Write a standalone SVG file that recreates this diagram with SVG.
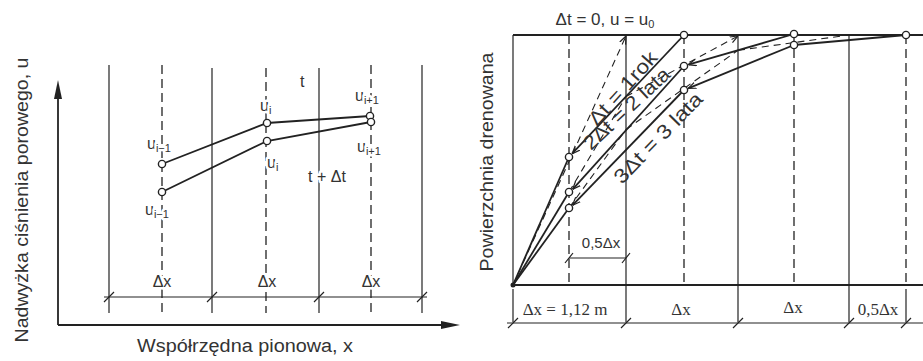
<svg xmlns="http://www.w3.org/2000/svg" width="923" height="361" viewBox="0 0 923 361">
<style>
.ln{stroke:#222;stroke-width:1.2;fill:none}
.th{stroke:#222;stroke-width:1.8;fill:none}
.ds{stroke:#222;stroke-width:1.3;fill:none;stroke-dasharray:9 5}
.dd{stroke:#222;stroke-width:1.1;fill:none;stroke-dasharray:7 5}
.pt{fill:#fff;stroke:#222;stroke-width:1.4}
.sans{font-family:"Liberation Sans",Arial,sans-serif;fill:#333}
.serif{font-family:"Liberation Serif","Times New Roman",serif;fill:#333}
.halo{stroke:#fff;stroke-width:5;paint-order:stroke;stroke-linejoin:round}
</style>
<defs>
<marker id="av" viewBox="0 0 10 10" refX="10" refY="5" markerWidth="8" markerHeight="8" markerUnits="userSpaceOnUse" orient="auto">
<path d="M0,1 L10,5 L0,9" fill="none" stroke="#222" stroke-width="1.5"/>
</marker>
</defs>
<rect width="923" height="361" fill="#fff"/>

<!-- LEFT DIAGRAM -->
<g id="left-axes">
<line class="th" x1="58" y1="325" x2="58" y2="95"/>
<polygon points="58,80 54,99 62,99" fill="#222"/>
<line class="th" x1="58" y1="325" x2="445" y2="325"/>
<polygon points="460,325 441,321 441,329" fill="#222"/>
</g>
<g id="left-grid">
<line class="ln" x1="109" y1="65" x2="109" y2="313"/>
<line class="ln" x1="212" y1="68" x2="212" y2="313"/>
<line class="ln" x1="319" y1="68" x2="319" y2="313"/>
<line class="ln" x1="422" y1="65" x2="422" y2="313"/>
<line class="ds" x1="162" y1="65" x2="162" y2="313"/>
<line class="ds" x1="266" y1="68" x2="266" y2="313"/>
<line class="ds" x1="371" y1="65" x2="371" y2="313"/>
<line class="ln" x1="104" y1="297" x2="427" y2="297"/>
<path class="ln" d="M104,302 L114,292 M207,302 L217,292 M314,302 L324,292 M417,302 L427,292"/>
</g>
<g id="left-curves">
<polyline class="th" points="162,164 267,123 370,116"/>
<polyline class="th" points="162,192 267,141 371,122"/>
<circle class="pt" cx="162" cy="164" r="3.6"/>
<circle class="pt" cx="267" cy="123" r="3.6"/>
<circle class="pt" cx="370" cy="116" r="3.6"/>
<circle class="pt" cx="162" cy="192" r="3.6"/>
<circle class="pt" cx="267" cy="141" r="3.6"/>
<circle class="pt" cx="371" cy="122" r="3.6"/>
</g>
<g id="left-labels" class="sans" font-size="16">
<text class="sans halo" x="147" y="149">u<tspan font-size="11" dy="3">i−1</tspan></text>
<text class="sans halo" x="145" y="215">u<tspan font-size="11" dy="3">i−1</tspan></text>
<text class="sans halo" x="260" y="111">u<tspan font-size="11" dy="3">i</tspan></text>
<text class="sans halo" x="267" y="168">u<tspan font-size="11" dy="3">i</tspan></text>
<text class="sans halo" x="355" y="101">u<tspan font-size="11" dy="3">i+1</tspan></text>
<text class="sans halo" x="357" y="152">u<tspan font-size="11" dy="3">i+1</tspan></text>
<text class="sans halo" x="300" y="87">t</text>
<text class="sans halo" x="327" y="182" text-anchor="middle">t + Δt</text>
<text class="sans halo" x="162" y="287" text-anchor="middle">Δx</text>
<text class="sans halo" x="267" y="287" text-anchor="middle">Δx</text>
<text class="sans halo" x="371" y="287" text-anchor="middle">Δx</text>
<text class="sans" x="245" y="352" text-anchor="middle" font-size="18" textLength="216" lengthAdjust="spacingAndGlyphs">Współrzędna pionowa, x</text>
<text class="sans" transform="translate(28,200) rotate(-90)" text-anchor="middle" font-size="18" textLength="285" lengthAdjust="spacingAndGlyphs">Nadwyżka ciśnienia porowego, u</text>
</g>

<!-- RIGHT DIAGRAM -->
<g id="right-frame">
<line class="th" x1="513" y1="35" x2="923" y2="35"/>
<line class="th" x1="513" y1="285" x2="923" y2="285"/>
<line class="ln" x1="513" y1="35" x2="513" y2="285"/>
<line class="ln" x1="626" y1="35" x2="626" y2="322"/>
<line class="ln" x1="738" y1="35" x2="738" y2="322"/>
<line class="ln" x1="849" y1="35" x2="849" y2="322"/>
<line class="ds" x1="569" y1="35" x2="569" y2="285"/>
<line class="ds" x1="684" y1="35" x2="684" y2="285"/>
<line class="ds" x1="794" y1="35" x2="794" y2="285"/>
<line class="ds" x1="906" y1="35" x2="906" y2="285"/>
<line class="ln" x1="513" y1="289" x2="513" y2="322"/>
<line class="ln" x1="906" y1="289" x2="906" y2="322"/>
<line class="ln" x1="507" y1="323" x2="923" y2="323"/>
<path class="ln" d="M508,328 L518,318 M621,328 L631,318 M733,328 L743,318 M844,328 L854,318 M901,328 L911,318"/>
<line class="ln" x1="569" y1="258" x2="626" y2="258"/>
<path class="ln" d="M565,263 L573,253 M622,263 L630,253"/>
</g>
<g id="right-connectors">
<line class="dd" x1="513" y1="285" x2="626" y2="36" marker-end="url(#av)"/>
<line class="dd" x1="569" y1="192" x2="626" y2="96.5"/>
<line class="dd" x1="569" y1="208" x2="626" y2="129.5"/>
<line class="dd" x1="626" y1="96.5" x2="738" y2="36" marker-end="url(#av)"/>
<line class="dd" x1="626" y1="129.5" x2="738" y2="50.3"/>
<line class="dd" x1="738" y1="50.3" x2="849" y2="35"/>
</g>
<g id="right-curves">
<line class="th" x1="513" y1="285" x2="569" y2="157"/>
<line class="th" x1="513" y1="285" x2="569" y2="192"/>
<line class="th" x1="513" y1="285" x2="569" y2="208"/>
<line class="th" x1="684" y1="35" x2="572.1" y2="153.7" marker-end="url(#av)"/>
<line class="th" x1="684" y1="66" x2="572.6" y2="189.4" marker-end="url(#av)"/>
<line class="th" x1="684" y1="90" x2="572.4" y2="205.3" marker-end="url(#av)"/>
<line class="th" x1="794" y1="34" x2="688.3" y2="64.7" marker-end="url(#av)"/>
<line class="th" x1="794" y1="45" x2="688.2" y2="88.3" marker-end="url(#av)"/>
<line class="th" x1="794" y1="45" x2="906" y2="35"/>
<circle cx="513" cy="285" r="2.5" fill="#222"/>
<circle class="pt" cx="569" cy="157" r="3.6"/>
<circle class="pt" cx="569" cy="192" r="3.6"/>
<circle class="pt" cx="569" cy="208" r="3.6"/>
<circle class="pt" cx="684" cy="35" r="3.6"/>
<circle class="pt" cx="684" cy="66" r="3.6"/>
<circle class="pt" cx="684" cy="90" r="3.6"/>
<circle class="pt" cx="794" cy="34" r="3.6"/>
<circle class="pt" cx="794" cy="45" r="3.6"/>
<circle class="pt" cx="906" cy="35" r="3.6"/>
</g>
<g id="right-labels">
<text class="sans" x="605" y="25" text-anchor="middle" font-size="17">Δt = 0, u = u<tspan font-size="11" dy="3">0</tspan></text>
<text class="sans" transform="translate(493,162) rotate(-90)" text-anchor="middle" font-size="18" textLength="219" lengthAdjust="spacingAndGlyphs">Powierzchnia drenowana</text>
<text class="sans" x="601" y="248" text-anchor="middle" font-size="15">0,5Δx</text>
<text class="sans" transform="translate(597,127) rotate(-48)" font-size="20" textLength="92" lengthAdjust="spacingAndGlyphs">Δt = 1rok</text>
<text class="sans" transform="translate(591,151) rotate(-43)" font-size="20" textLength="110" lengthAdjust="spacingAndGlyphs">2Δt = 2 lata</text>
<text class="sans" transform="translate(622,185) rotate(-46)" font-size="20" textLength="118" lengthAdjust="spacingAndGlyphs">3Δt = 3 lata</text>
<text class="serif" x="565" y="315" text-anchor="middle" font-size="17">Δx = 1,12 m</text>
<text class="serif" x="681" y="315" text-anchor="middle" font-size="17">Δx</text>
<text class="serif" x="793" y="313" text-anchor="middle" font-size="17">Δx</text>
<text class="serif" x="878" y="315" text-anchor="middle" font-size="17">0,5Δx</text>
</g>
</svg>
